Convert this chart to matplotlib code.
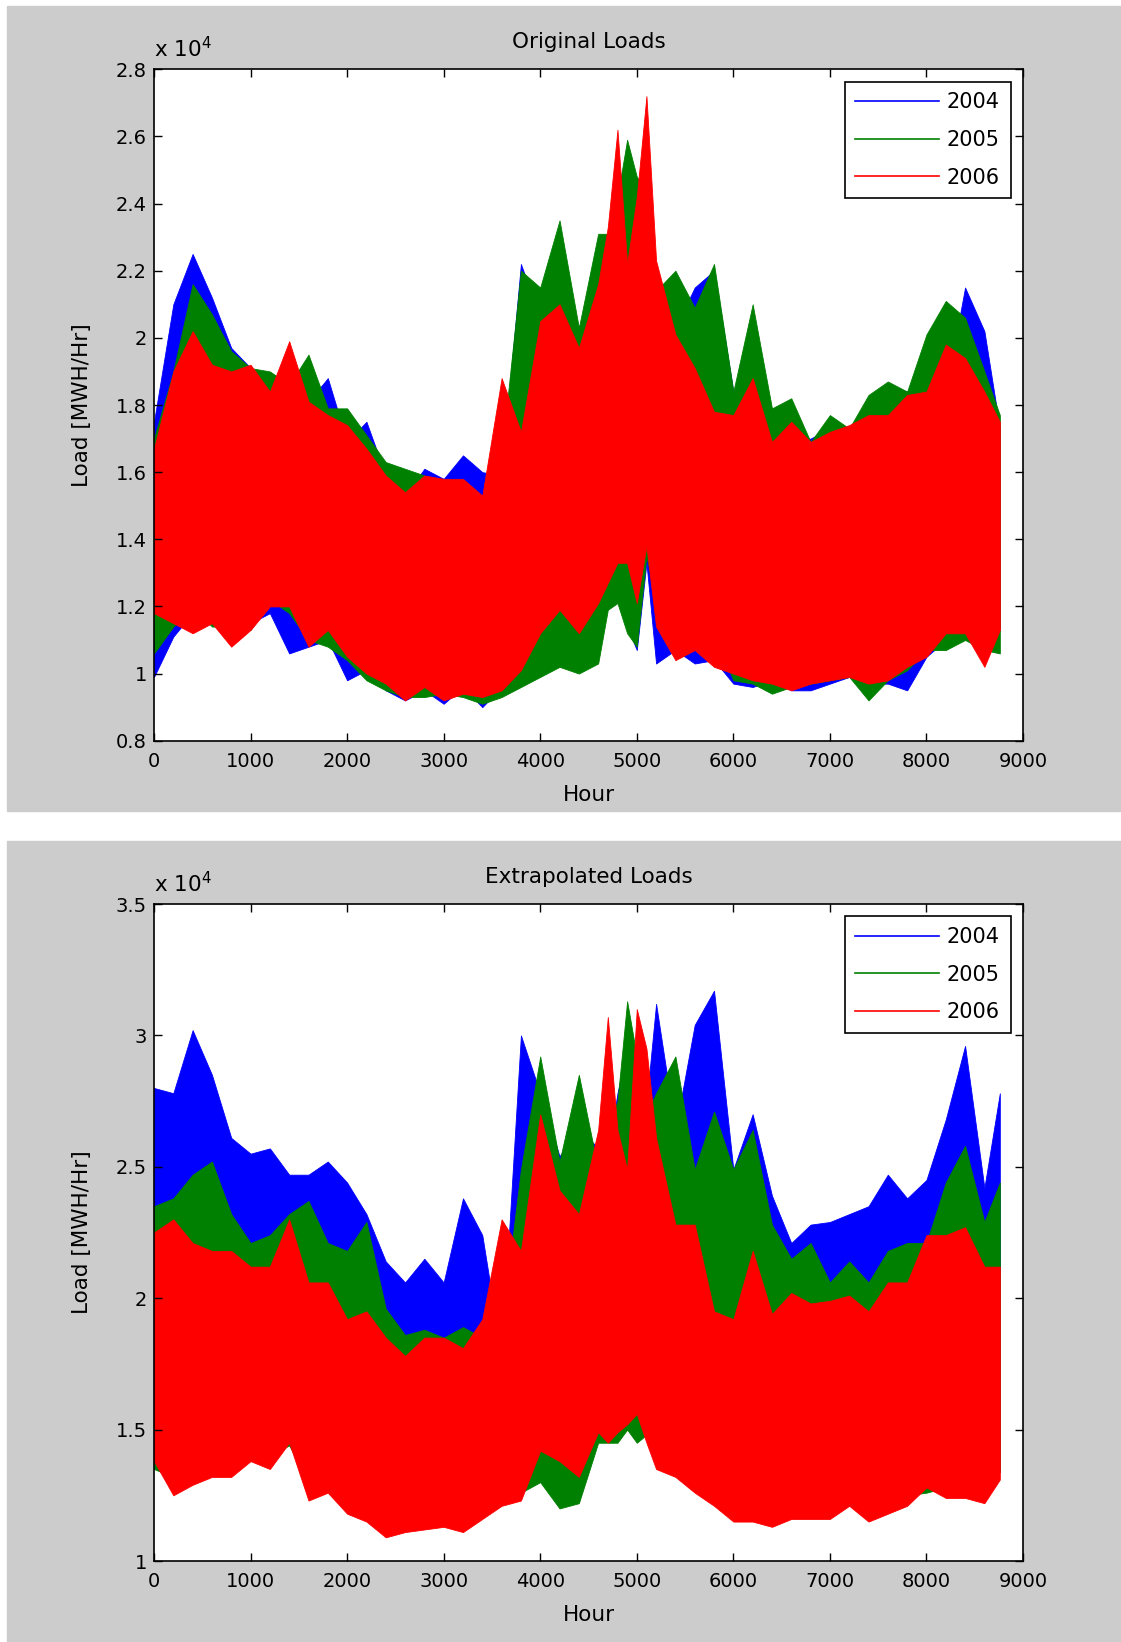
import numpy as np
import matplotlib.pyplot as plt
from matplotlib.patches import Rectangle
from matplotlib.ticker import FuncFormatter, MultipleLocator

hours = [0, 200, 400, 600, 800, 1000, 1200, 1400, 1600, 1800, 2000, 2200,
         2400, 2600, 2800, 3000, 3200, 3400, 3600, 3800, 4000, 4200, 4400, 4600,
         4700, 4800, 4900, 5000, 5100,
         5200, 5400, 5600, 5800, 6000, 6200, 6400, 6600, 6800, 7000, 7200,
         7400, 7600, 7800, 8000, 8200, 8400, 8600,
         8760]

years = ["2004", "2005", "2006"]

# Original loads, daily max / min envelope (x 10^4 MWH/Hr)
orig_hi_2004 = [1.75, 2.10, 2.25, 2.12, 1.97, 1.91, 1.84, 1.84, 1.81, 1.88, 1.69, 1.75, 1.59, 1.53, 1.61, 1.58, 1.65, 1.60, 1.59, 2.22, 2.06, 1.97, 1.96, 2.03,
                2.08, 2.25, 2.03, 2.03, 2.01,
                2.03, 2.03, 2.15, 2.20, 1.84, 1.79, 1.75, 1.69, 1.70, 1.73, 1.70, 1.76, 1.86, 1.84, 1.84, 1.84, 2.15, 2.02,
                1.73]
orig_lo_2004 = [0.99, 1.11, 1.18, 1.15, 1.13, 1.15, 1.18, 1.06, 1.08, 1.10, 0.98, 1.01, 0.95, 0.92, 0.95, 0.91, 0.96, 0.90, 0.96, 0.99, 1.10, 1.02, 1.09, 1.14,
                1.23, 1.27, 1.14, 1.07, 1.33,
                1.03, 1.07, 1.03, 1.04, 0.97, 0.96, 0.98, 0.95, 0.95, 0.97, 0.99, 0.97, 0.97, 0.95, 1.05, 1.10, 1.12, 1.07,
                1.14]
orig_hi_2005 = [1.70, 1.90, 2.16, 2.07, 1.96, 1.91, 1.90, 1.86, 1.95, 1.79, 1.79, 1.71, 1.63, 1.61, 1.59, 1.53, 1.53, 1.46, 1.65, 2.20, 2.15, 2.35, 2.03, 2.31,
                2.31, 2.42, 2.59, 2.48, 2.44,
                2.14, 2.20, 2.09, 2.22, 1.84, 2.10, 1.79, 1.82, 1.69, 1.77, 1.73, 1.83, 1.87, 1.84, 2.01, 2.11, 2.06, 1.90,
                1.77]
orig_lo_2005 = [1.06, 1.14, 1.20, 1.14, 1.14, 1.13, 1.22, 1.18, 1.10, 1.08, 1.04, 0.98, 0.95, 0.93, 0.93, 0.94, 0.93, 0.91, 0.93, 0.96, 0.99, 1.02, 1.00, 1.03,
                1.19, 1.21, 1.12, 1.08, 1.35,
                1.21, 1.09, 1.14, 1.12, 0.98, 0.97, 0.94, 0.96, 0.97, 0.98, 0.99, 0.92, 0.98, 1.01, 1.07, 1.07, 1.10, 1.07,
                1.06]
orig_hi_2006 = [1.67, 1.90, 2.02, 1.92, 1.90, 1.92, 1.84, 1.99, 1.81, 1.77, 1.74, 1.67, 1.59, 1.54, 1.59, 1.58, 1.58, 1.53, 1.88, 1.72, 2.05, 2.10, 1.97, 2.16,
                2.33, 2.62, 2.22, 2.42, 2.72,
                2.23, 2.01, 1.91, 1.78, 1.77, 1.88, 1.69, 1.75, 1.69, 1.72, 1.74, 1.77, 1.77, 1.83, 1.84, 1.98, 1.94, 1.84,
                1.75]
orig_lo_2006 = [1.18, 1.15, 1.12, 1.15, 1.08, 1.13, 1.20, 1.20, 1.08, 1.13, 1.05, 1.00, 0.97, 0.92, 0.96, 0.92, 0.94, 0.93, 0.95, 1.01, 1.12, 1.19, 1.12, 1.21,
                1.27, 1.33, 1.33, 1.21, 1.38,
                1.14, 1.04, 1.07, 1.02, 1.00, 0.98, 0.97, 0.95, 0.97, 0.98, 0.99, 0.97, 0.98, 1.02, 1.05, 1.12, 1.12, 1.02,
                1.13]

# Extrapolated loads
extr_hi_2004 = [2.80, 2.78, 3.02, 2.85, 2.61, 2.55, 2.57, 2.47, 2.47, 2.52, 2.44, 2.32, 2.14, 2.06, 2.15, 2.06, 2.38, 2.24, 1.78, 3.00, 2.78, 2.54, 2.65, 2.57,
                2.55, 2.78, 2.95, 2.55, 2.74,
                3.12, 2.64, 3.04, 3.17, 2.49, 2.70, 2.39, 2.21, 2.28, 2.29, 2.32, 2.35, 2.47, 2.38, 2.45, 2.68, 2.96, 2.42,
                2.78]
extr_lo_2004 = [1.36, 1.30, 1.33, 1.36, 1.36, 1.40, 1.40, 1.48, 1.30, 1.30, 1.22, 1.20, 1.14, 1.16, 1.16, 1.18, 1.16, 1.20, 1.25, 1.28, 1.45, 1.39, 1.36, 1.52,
                1.50, 1.52, 1.55, 1.50, 1.50,
                1.40, 1.36, 1.30, 1.26, 1.20, 1.20, 1.18, 1.20, 1.20, 1.20, 1.25, 1.20, 1.22, 1.25, 1.32, 1.28, 1.28, 1.26,
                1.34]
extr_hi_2005 = [2.35, 2.38, 2.47, 2.52, 2.32, 2.21, 2.24, 2.32, 2.37, 2.21, 2.18, 2.29, 1.96, 1.86, 1.88, 1.85, 1.89, 1.85, 1.89, 2.49, 2.92, 2.52, 2.85, 2.49,
                2.65, 2.75, 3.13, 2.92, 2.70,
                2.78, 2.92, 2.49, 2.71, 2.49, 2.64, 2.28, 2.15, 2.21, 2.06, 2.14, 2.06, 2.18, 2.21, 2.21, 2.44, 2.58, 2.29,
                2.44]
extr_lo_2005 = [1.35, 1.32, 1.33, 1.36, 1.36, 1.40, 1.40, 1.44, 1.30, 1.30, 1.22, 1.20, 1.14, 1.16, 1.16, 1.18, 1.16, 1.20, 1.25, 1.26, 1.30, 1.20, 1.22, 1.45,
                1.45, 1.45, 1.50, 1.45, 1.48,
                1.40, 1.36, 1.30, 1.26, 1.20, 1.20, 1.18, 1.20, 1.20, 1.20, 1.25, 1.20, 1.22, 1.25, 1.26, 1.28, 1.28, 1.26,
                1.34]
extr_hi_2006 = [2.25, 2.30, 2.21, 2.18, 2.18, 2.12, 2.12, 2.30, 2.06, 2.06, 1.92, 1.95, 1.85, 1.78, 1.85, 1.85, 1.81, 1.92, 2.30, 2.18, 2.70, 2.41, 2.32, 2.64,
                3.07, 2.64, 2.49, 3.10, 2.95,
                2.61, 2.28, 2.28, 1.95, 1.92, 2.18, 1.94, 2.02, 1.98, 1.99, 2.01, 1.95, 2.06, 2.06, 2.24, 2.24, 2.27, 2.12,
                2.12]
extr_lo_2006 = [1.38, 1.25, 1.29, 1.32, 1.32, 1.38, 1.35, 1.45, 1.23, 1.26, 1.18, 1.15, 1.09, 1.11, 1.12, 1.13, 1.11, 1.16, 1.21, 1.23, 1.42, 1.38, 1.32, 1.49,
                1.45, 1.49, 1.52, 1.56, 1.45,
                1.35, 1.32, 1.26, 1.21, 1.15, 1.15, 1.13, 1.16, 1.16, 1.16, 1.21, 1.15, 1.18, 1.21, 1.28, 1.24, 1.24, 1.22,
                1.31]

colors = ["#0000ff", "#008000", "#ff0000"]
gray = "#cccccc"
fs = 14     # tick labels
fl = 15.5   # titles / axis labels

plt.rcParams["font.family"] = ["DejaVu Sans"]

W, H = 1121, 1642
fig = plt.figure(figsize=(W / 100, H / 100), dpi=100, facecolor="white")

# gray figure panels (two MATLAB windows stacked)
fig.patches.append(Rectangle((7 / W, 1 - 811 / H), 1114 / W, 805 / H,
                             transform=fig.transFigure, color=gray, zorder=-10))
fig.patches.append(Rectangle((7 / W, 0), 1114 / W, 801 / H,
                             transform=fig.transFigure, color=gray, zorder=-10))

panels = [
    dict(title="Original Loads", pos=[154 / W, 1 - 740.7 / H, 869 / W, 671.4 / H],
         ylim=(0.8e4, 2.8e4), step=0.2e4,
         hi=[orig_hi_2004, orig_hi_2005, orig_hi_2006],
         lo=[orig_lo_2004, orig_lo_2005, orig_lo_2006]),
    dict(title="Extrapolated Loads", pos=[154 / W, 1 - 1561 / H, 869 / W, 657 / H],
         ylim=(1.0e4, 3.5e4), step=0.5e4,
         hi=[extr_hi_2004, extr_hi_2005, extr_hi_2006],
         lo=[extr_lo_2004, extr_lo_2005, extr_lo_2006]),
]

x = np.array(hours)
for p in panels:
    ax = fig.add_axes(p["pos"])
    for i in range(3):
        hi = np.array(p["hi"][i]) * 1e4
        lo = np.array(p["lo"][i]) * 1e4
        ax.fill_between(x, lo, hi, color=colors[i], lw=0.6, edgecolor=colors[i])
        ax.plot([], [], color=colors[i], lw=1.2, label=years[i])

    ax.set_xlim(0, 9000)
    ax.set_ylim(*p["ylim"])
    ax.xaxis.set_major_locator(MultipleLocator(1000))
    ax.yaxis.set_major_locator(MultipleLocator(p["step"]))
    ax.yaxis.set_major_formatter(FuncFormatter(lambda v, pos: "%g" % round(v / 1e4, 2)))
    ax.tick_params(direction="in", top=True, right=True, length=6, width=1,
                   labelsize=fs)
    ax.tick_params(axis="x", pad=8)
    ax.tick_params(axis="y", pad=5)
    for s in ax.spines.values():
        s.set_linewidth(1.2)
    ax.set_title(p["title"], fontsize=fl, pad=15)
    ax.set_xlabel("Hour", fontsize=fl, labelpad=10)
    ax.set_ylabel("Load [MWH/Hr]", fontsize=fl, labelpad=17)
    ax.text(0.0, 1.012, r"x 10$^4$", transform=ax.transAxes, fontsize=fl,
            ha="left", va="bottom")
    leg = ax.legend(loc="upper right", fontsize=15, handlelength=4.0,
                    handletextpad=0.4, labelspacing=0.85, borderaxespad=0.6,
                    borderpad=0.5, fancybox=False, framealpha=1)
    leg.get_frame().set_edgecolor("black")
    leg.get_frame().set_linewidth(1.2)

fig.savefig("out.png", dpi=100, facecolor=fig.get_facecolor())
